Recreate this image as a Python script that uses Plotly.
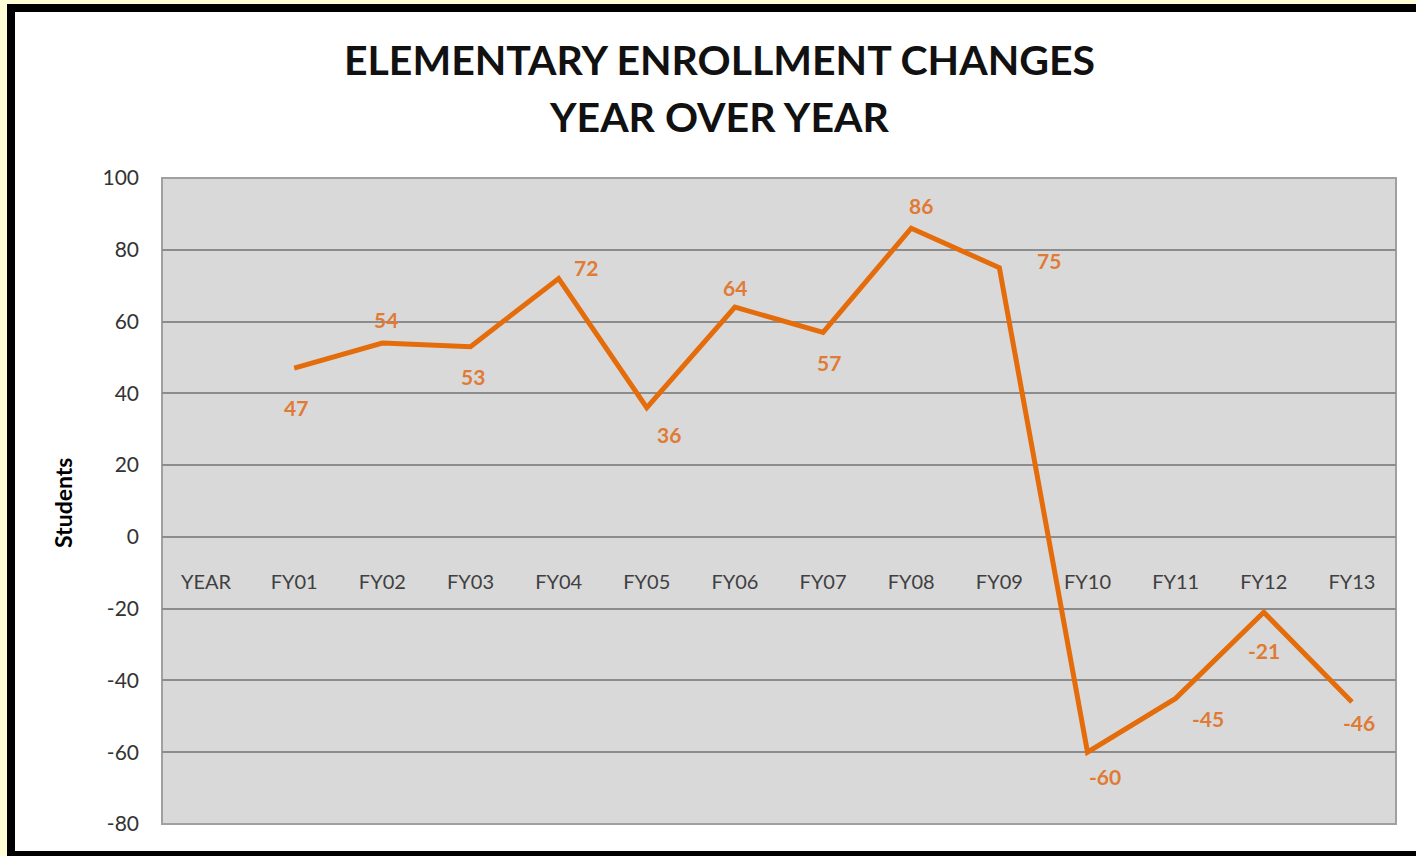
import plotly.graph_objects as go

categories = ["YEAR", "FY01", "FY02", "FY03", "FY04", "FY05", "FY06", "FY07",
              "FY08", "FY09", "FY10", "FY11", "FY12", "FY13"]
values = [None, 47, 54, 53, 72, 36, 64, 57, 86, 75, -60, -45, -21, -46]
y_tickvals = [-80, -60, -40, -20, 0, 20, 40, 60, 80, 100]
y_ticktext = ["-80", "-60", "-40", "-20", "0", "20", "40", "60", "80", "100"]
title_lines = ["ELEMENTARY ENROLLMENT CHANGES", "YEAR OVER YEAR"]

# label offsets (pixels) for data labels: (xshift, yshift)
label_offsets = [None, (2, -39), (4, 24), (2, -30), (27, 11), (22, -27), (0, 20),
                 (6, -30), (10, 23), (50, 7), (17, -24), (32, -20), (0, -38), (7, -21)]

W, H = 1416, 856
L, R, T, B = 162, 20, 178, 32
PW, PH = W - L - R, H - T - B


def px(x):
    return (x - L) / PW


def py(y):
    return (H - B - y) / PH


ORANGE_LINE = "#E46C0A"
ORANGE_TXT = "#E07B35"
FONT = "Lato"

fig = go.Figure()
fig.add_trace(go.Scatter(
    x=categories, y=values, mode="lines",
    line=dict(color=ORANGE_LINE, width=5),
    connectgaps=False, hoverinfo="skip", showlegend=False,
))

annotations = []
for c, v, off in zip(categories, values, label_offsets):
    if v is None:
        continue
    annotations.append(dict(
        x=c, y=v, xref="x", yref="y", text=str(v), showarrow=False,
        xshift=off[0], yshift=off[1],
        font=dict(family=FONT, size=21, color=ORANGE_TXT, weight="bold"),
    ))

for line_text, ypix in zip(title_lines, [59, 116]):
    annotations.append(dict(
        x=px(719), y=py(ypix), xref="paper", yref="paper",
        text=line_text, showarrow=False, xanchor="center", yanchor="middle",
        font=dict(family=FONT, size=41, color="#111111", weight="bold"),
    ))
annotations.append(dict(
    x=px(63), y=py(503), xref="paper", yref="paper", text="Students",
    textangle=-90, showarrow=False, xanchor="center", yanchor="middle",
    font=dict(family=FONT, size=23, color="#000000", weight="bold"),
))

shapes = [
    dict(type="rect", xref="paper", yref="paper", x0=px(0), x1=px(W), y0=py(H), y1=py(0),
         fillcolor="#FFFDD6", line=dict(width=0), layer="below"),
    dict(type="rect", xref="paper", yref="paper", x0=px(7), x1=px(W + 5), y0=py(H + 5), y1=py(4),
         fillcolor="#000000", line=dict(width=0), layer="below"),
    dict(type="rect", xref="paper", yref="paper", x0=px(15), x1=px(W + 5), y0=py(851), y1=py(12),
         fillcolor="#FFFFFF", line=dict(width=0), layer="below"),
    dict(type="rect", xref="paper", yref="paper", x0=0, x1=1, y0=0, y1=1,
         fillcolor="#D9D9D9", line=dict(color="#A0A0A0", width=2), layer="below"),
]

fig.update_layout(
    width=W, height=H,
    margin=dict(l=L, r=R, t=T, b=B, autoexpand=False),
    paper_bgcolor="#FFFFFF",
    plot_bgcolor="rgba(0,0,0,0)",
    showlegend=False,
    annotations=annotations,
    shapes=shapes,
    font=dict(family=FONT),
)
fig.update_xaxes(
    type="category", categoryorder="array", categoryarray=categories,
    range=[-0.5, len(categories) - 0.5],
    showgrid=False, zeroline=False, showline=False, ticks="",
    anchor="free", position=(0 - (-80)) / 180,
    ticklabelstandoff=31,
    tickfont=dict(family=FONT, size=20, color="#404040"),
)
fig.update_yaxes(
    range=[-80, 100], tickvals=y_tickvals, ticktext=y_ticktext,
    showgrid=True, gridcolor="#8C8C8C", gridwidth=2,
    zeroline=False, showline=False, ticks="",
    ticklabelstandoff=22,
    tickfont=dict(family=FONT, size=21, color="#333333"),
)

fig.write_html("out.html", config={"displayModeBar": False},
               post_script="document.body.style.margin='0';")
